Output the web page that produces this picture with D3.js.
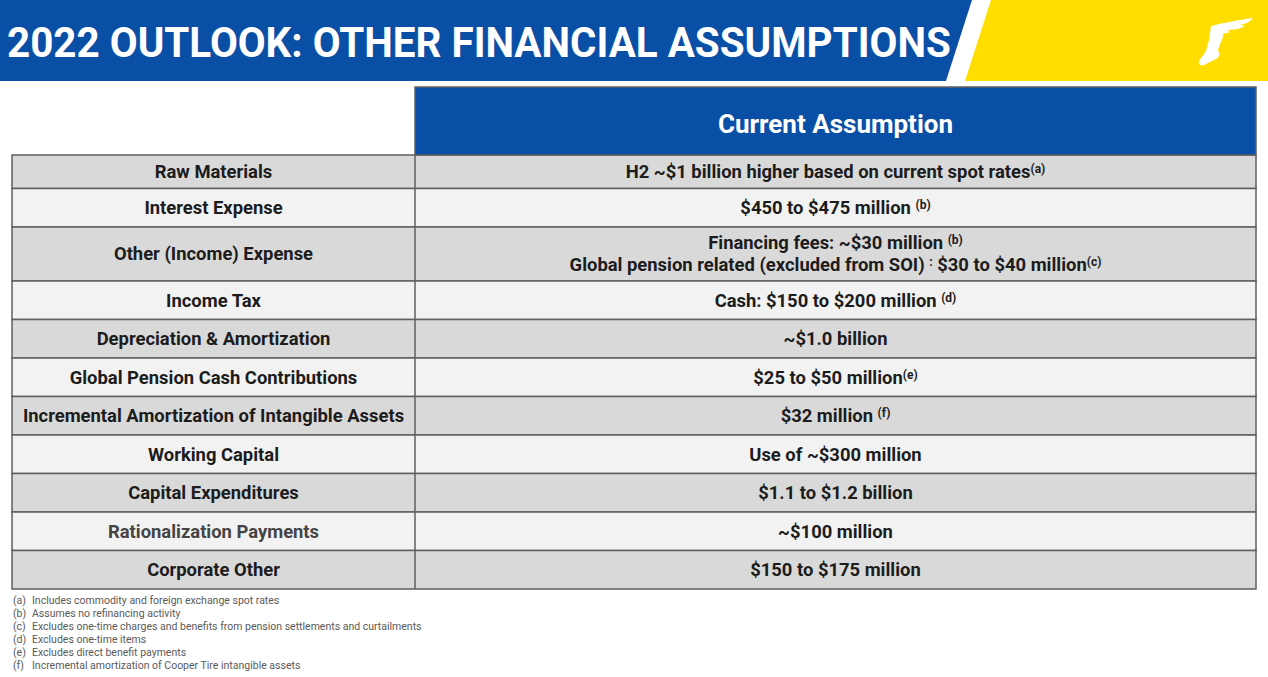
<!DOCTYPE html>
<html>
<head>
<meta charset="utf-8">
<script src="https://cdn.jsdelivr.net/npm/d3@7/dist/d3.min.js"></script>
<style>
  html, body { margin: 0; padding: 0; background: #fff; }
  svg { display: block; font-family: Roboto, 'Open Sans', sans-serif; }
</style>
</head>
<body>
<svg id="chart" width="1268" height="677"></svg>
<script>
// slide content
const title = '2022 OUTLOOK: OTHER FINANCIAL ASSUMPTIONS'
const columnHeader = 'Current Assumption'

const rowLabels = [
  'Raw Materials',
  'Interest Expense',
  'Other (Income) Expense',
  'Income Tax',
  'Depreciation & Amortization',
  'Global Pension Cash Contributions',
  'Incremental Amortization of Intangible Assets',
  'Working Capital',
  'Capital Expenditures',
  'Rationalization Payments',
  'Corporate Other'
]

// {..} marks a superscript note
const rowValues = [
  ['H2 ~$1 billion higher based on current spot rates{(a)}'],
  ['$450 to $475 million {(b)}'],
  ['Financing fees: ~$30 million {(b)}', 'Global pension related (excluded from SOI) {:} $30 to $40 million{(c)}'],
  ['Cash: $150 to $200 million {(d)}'],
  ['~$1.0 billion'],
  ['$25 to $50 million{(e)}'],
  ['$32 million {(f)}'],
  ['Use of ~$300 million'],
  ['$1.1 to $1.2 billion'],
  ['~$100 million'],
  ['$150 to $175 million']
]

const noteKeys = ['(a)', '(b)', '(c)', '(d)', '(e)', '(f)']
const noteTexts = [
  'Includes commodity and foreign exchange spot rates',
  'Assumes no refinancing activity',
  'Excludes one-time charges and benefits from pension settlements and curtailments',
  'Excludes one-time items',
  'Excludes direct benefit payments',
  'Incremental amortization of Cooper Tire intangible assets'
]

const W = 1268, H = 677
const BLUE = '#0a4fa6', YELLOW = '#ffdd00'
const svg = d3.select('#chart')

// ---- title band ----
svg.append('path')
  .attr('d', 'M0,0 L972,0 L946,81 L0,81 Z')
  .attr('fill', BLUE)
svg.append('path')
  .attr('d', `M991,0 L${W},0 L${W},81 L965,81 Z`)
  .attr('fill', YELLOW)

const titleText = svg.append('text')
  .attr('x', 0).attr('y', 0)
  .attr('fill', '#fff')
  .attr('font-weight', 700)
  .attr('font-size', 43)
  .text(title)
const tw = titleText.node().getComputedTextLength()
titleText.attr('transform', `translate(7,57) scale(${944 / tw},1)`)

// wingfoot mark
const logo = svg.append('g').attr('transform', 'translate(1198,18)').attr('fill', '#fff')
logo.append('path')
  .attr('d', 'M13,8 C24,5 40,2 55,0 C52,4 47,6 42,7 L47,8 C42,11 35,12 29,12 L32,14 C27,16 22,16 17,15 Z')
logo.append('path')
  .attr('d', 'M13,8 L25,14 C26,18 24,22 22,26 L20,32 C22,35 22,39 18,41 L6,47 C2,48 0,46 1,43 L8,33 L11,22 Z')

// ---- table ----
const tableLeft = 12, splitX = 415, tableRight = 1256
const headerTop = 87, headerBottom = 155, rowsTop = 150
const lineH = 38.5
const rowH = d => d.length > 1 ? 54 : lineH

const rows = rowLabels.map((label, i) => ({ label, value: rowValues[i], i }))
let acc = rowsTop
rows.forEach(r => { r.y0 = acc; r.h = rowH(r.value); acc += r.h })
rows.forEach(r => { r.top = Math.max(r.y0, headerBottom); r.cy = (r.top + r.y0 + r.h) / 2 })

const fills = ['#d9d9d9', '#f2f2f2']
const border = '#5f5f5f'

const rowG = svg.append('g').selectAll('g').data(rows).join('g')

rowG.append('rect')
  .attr('x', tableLeft).attr('y', d => d.top)
  .attr('width', tableRight - tableLeft).attr('height', d => d.y0 + d.h - d.top)
  .attr('fill', d => fills[d.i % 2])
  .attr('stroke', border).attr('stroke-width', 1.5)

rowG.append('line')
  .attr('x1', splitX).attr('x2', splitX)
  .attr('y1', d => d.top).attr('y2', d => d.y0 + d.h)
  .attr('stroke', border).attr('stroke-width', 1.5)

const FS = 18.4
rowG.append('text')
  .attr('x', (tableLeft + splitX) / 2)
  .attr('y', d => d.cy)
  .attr('dy', '0.35em')
  .attr('text-anchor', 'middle')
  .attr('font-weight', 700)
  .attr('font-size', FS)
  .attr('fill', d => d.label === 'Rationalization Payments' ? '#444' : '#1c1c1c')
  .text(d => d.label)

const valueX = (splitX + tableRight) / 2
rowG.each(function (d) {
  const g = d3.select(this)
  const n = d.value.length
  d.value.forEach((line, li) => {
    const t = g.append('text')
      .attr('x', valueX)
      .attr('y', d.cy + (li - (n - 1) / 2) * 22)
      .attr('dy', '0.35em')
      .attr('text-anchor', 'middle')
      .attr('font-weight', 700)
      .attr('font-size', FS)
      .attr('fill', '#1c1c1c')
    line.split(/(\{[^}]*\})/).filter(s => s.length).forEach(seg => {
      if (seg.startsWith('{')) {
        t.append('tspan')
          .attr('font-size', 12)
          .attr('baseline-shift', '45%')
          .text(seg.slice(1, -1))
      } else {
        t.append('tspan').text(seg)
      }
    })
  })
})

// header cell
svg.append('rect')
  .attr('x', splitX).attr('y', headerTop)
  .attr('width', tableRight - splitX).attr('height', headerBottom - headerTop)
  .attr('fill', BLUE)
  .attr('stroke', border).attr('stroke-width', 1.5)
svg.append('text')
  .attr('x', valueX).attr('y', (headerTop + headerBottom) / 2 + 3)
  .attr('dy', '0.35em')
  .attr('text-anchor', 'middle')
  .attr('fill', '#fff')
  .attr('font-weight', 700)
  .attr('font-size', 26)
  .text(columnHeader)

// ---- footnotes ----
const notes = svg.append('g').attr('font-size', 10.5).attr('fill', '#5a5a5a')
noteKeys.forEach((k, i) => {
  const y = 604 + i * 13
  notes.append('text').attr('x', 13).attr('y', y).text(k)
  notes.append('text').attr('x', 32).attr('y', y).text(noteTexts[i])
})
</script>
</body>
</html>
